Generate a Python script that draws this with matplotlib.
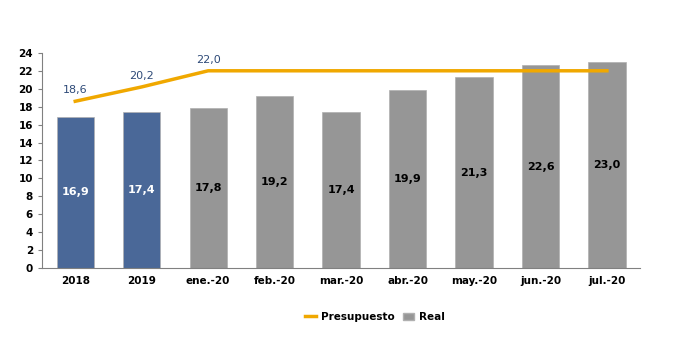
import numpy as np
import matplotlib.pyplot as plt
from matplotlib.lines import Line2D
from matplotlib.patches import Patch

categorias = ['2018', '2019', 'ene.-20', 'feb.-20', 'mar.-20', 'abr.-20', 'may.-20', 'jun.-20', 'jul.-20']
real = [16.9, 17.4, 17.8, 19.2, 17.4, 19.9, 21.3, 22.6, 23.0]
presupuesto = [18.6, 20.2, 22.0, 22.0, 22.0, 22.0, 22.0, 22.0, 22.0]
etiquetas_presupuesto = ['18,6', '20,2', '22,0']

azul = '#4A6898'
gris = '#969696'
oro = '#F0A800'

fig = plt.figure(figsize=(6.82, 3.41), dpi=100)
ax = fig.add_axes([0.0616, 0.214, 0.877, 0.631])

x = np.arange(len(categorias))
colores = [azul, azul] + [gris] * 7
ax.bar(x, real, width=0.56, color=colores, edgecolor='#B0B0B0', linewidth=0.5, zorder=2)
ax.plot(x, presupuesto, color=oro, linewidth=2.5, zorder=3)

for i, v in enumerate(real):
    c = 'white' if i < 2 else 'black'
    ax.text(x[i], v / 2, f'{v:.1f}'.replace('.', ','), ha='center', va='center',
            fontsize=8, fontweight='bold', color=c, zorder=4)

for i, t in enumerate(etiquetas_presupuesto):
    ax.text(x[i], presupuesto[i] + 0.7, t, ha='center', va='bottom',
            fontsize=8, color='#2E4A78', zorder=4)

ax.set_xlim(-0.5, len(categorias) - 0.5)
ax.set_ylim(0, 24)
ax.set_yticks(range(0, 25, 2))
ax.set_xticks(x)
ax.set_xticklabels(categorias)
ax.tick_params(axis='both', labelsize=7.5, length=3, color='#808080')
ax.tick_params(axis='x', length=0, pad=6)
for lbl in ax.get_xticklabels() + ax.get_yticklabels():
    lbl.set_fontweight('bold')
ax.spines['top'].set_visible(False)
ax.spines['right'].set_visible(False)
ax.spines['left'].set_color('#808080')
ax.spines['bottom'].set_color('#808080')

handles = [Line2D([0], [0], color=oro, linewidth=2.5),
           Patch(facecolor=gris, edgecolor='#B0B0B0')]
fig.legend(handles, ['Presupuesto', 'Real'], loc='center', bbox_to_anchor=(0.55, 0.07),
           ncol=2, frameon=False, prop={'size': 7.5, 'weight': 'bold'},
           handlelength=1.0, columnspacing=0.8, handletextpad=0.5)

fig.savefig('out.png', dpi=100)
